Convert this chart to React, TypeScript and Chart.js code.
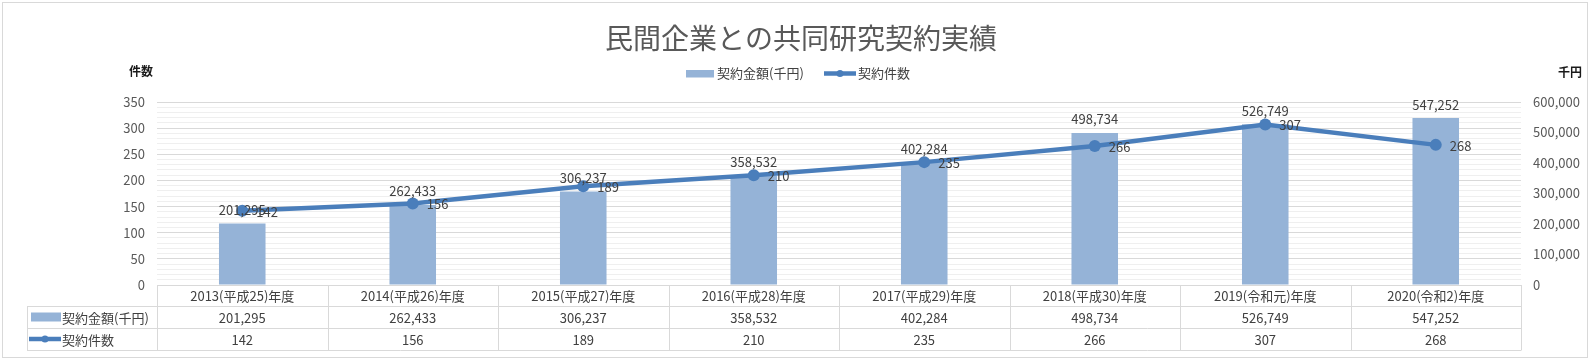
import React, { useEffect, useRef } from "react";
import { Chart, registerables } from "chart.js";

Chart.register(...registerables);

const titleText = "民間企業との共同研究契約実績";
const categories = [
  "2013(平成25)年度",
  "2014(平成26)年度",
  "2015(平成27)年度",
  "2016(平成28)年度",
  "2017(平成29)年度",
  "2018(平成30)年度",
  "2019(令和元)年度",
  "2020(令和2)年度",
];
const amountName = "契約金額(千円)";
const countName = "契約件数";
const amountValues = [201295, 262433, 306237, 358532, 402284, 498734, 526749, 547252];
const countValues = [142, 156, 189, 210, 235, 266, 307, 268];
const leftAxisTitle = "件数";
const rightAxisTitle = "千円";
const leftMax = 350;
const leftMajorStep = 50;
const leftMinorStep = 10;
const rightMax = 600000;
const rightStep = 100000;

const FONT = "'Noto Sans CJK JP', 'Noto Sans', sans-serif";
const BAR_COLOR = "#95B3D7";
const LINE_COLOR = "#4A7EBB";
const GRID_MAJOR = "#d9d9d9";
const GRID_MINOR = "#efefef";
const TEXT = "#404040";
const AXIS_TEXT = "#595959";

const fmt = (v: number) => v.toLocaleString("en-US");

const decorPlugin = {
  id: "decor",
  beforeDraw(chart: any) {
    const ctx = chart.ctx;
    ctx.save();
    ctx.fillStyle = "#ffffff";
    ctx.fillRect(0, 0, chart.width, chart.height);
    ctx.strokeStyle = GRID_MAJOR;
    ctx.lineWidth = 1;
    ctx.strokeRect(2.5, 2.5, 1585, 355);
    ctx.restore();
  },
  afterDatasetsDraw(chart: any) {
    const ctx = chart.ctx;
    ctx.save();
    ctx.font = `13px ${FONT}`;
    ctx.fillStyle = TEXT;
    ctx.textBaseline = "middle";
    const barMeta = chart.getDatasetMeta(1);
    ctx.textAlign = "center";
    barMeta.data.forEach((el: any, i: number) => {
      ctx.fillText(fmt(amountValues[i]), el.x, el.y - 13.5);
    });
    const lineMeta = chart.getDatasetMeta(0);
    ctx.textAlign = "left";
    lineMeta.data.forEach((el: any, i: number) => {
      ctx.fillText(String(countValues[i]), el.x + 14, el.y + 1);
    });
    ctx.restore();
  },
  afterDraw(chart: any) {
    const ctx = chart.ctx;
    const area = chart.chartArea;
    const xs = chart.scales.x;
    ctx.save();
    // title
    ctx.fillStyle = AXIS_TEXT;
    ctx.font = `28px ${FONT}`;
    ctx.textAlign = "center";
    ctx.textBaseline = "middle";
    ctx.fillText(titleText, 801, 38);

    // legend
    ctx.font = `13px ${FONT}`;
    ctx.textAlign = "left";
    ctx.fillStyle = BAR_COLOR;
    ctx.fillRect(686, 70, 28, 7.5);
    ctx.fillStyle = TEXT;
    ctx.fillText(amountName, 717, 73.5);
    ctx.strokeStyle = LINE_COLOR;
    ctx.lineWidth = 4.5;
    ctx.beginPath();
    ctx.moveTo(824, 73.5);
    ctx.lineTo(856, 73.5);
    ctx.stroke();
    ctx.fillStyle = LINE_COLOR;
    ctx.beginPath();
    ctx.arc(840, 73.5, 3.5, 0, Math.PI * 2);
    ctx.fill();
    ctx.fillStyle = TEXT;
    ctx.fillText(countName, 858, 73.5);

    // axis titles
    ctx.font = `600 12px ${FONT}`;
    ctx.fillStyle = "#1a1a1a";
    ctx.textAlign = "right";
    ctx.fillText(leftAxisTitle, 153, 71);
    ctx.textAlign = "left";
    ctx.fillText(rightAxisTitle, 1558, 72.5);

    // data table
    const n = categories.length;
    const cat = xs.getPixelForValue(1) - xs.getPixelForValue(0);
    const left = area.left;
    const right = area.right;
    const r0 = area.bottom;
    const r1 = r0 + 21;
    const r2 = r1 + 22;
    const r3 = r2 + 22;
    const tLeft = 27;
    ctx.strokeStyle = GRID_MAJOR;
    ctx.lineWidth = 1;
    ctx.beginPath();
    const h = (x1: number, x2: number, y: number) => {
      ctx.moveTo(x1, Math.round(y) + 0.5);
      ctx.lineTo(x2, Math.round(y) + 0.5);
    };
    const v = (x: number, y1: number, y2: number) => {
      ctx.moveTo(Math.round(x) + 0.5, y1);
      ctx.lineTo(Math.round(x) + 0.5, y2);
    };
    h(left, right, r0);
    h(tLeft, right, r1);
    h(tLeft, right, r2);
    h(tLeft, right, r3);
    v(tLeft, r1, r3 + 0.5);
    for (let k = 0; k <= n; k++) {
      const x = k < n ? xs.getPixelForValue(k) - cat / 2 : xs.getPixelForValue(n - 1) + cat / 2;
      v(x, r0, r3 + 0.5);
    }
    ctx.stroke();

    ctx.font = `13px ${FONT}`;
    ctx.fillStyle = TEXT;
    ctx.textAlign = "center";
    ctx.textBaseline = "middle";
    for (let i = 0; i < n; i++) {
      const cx = xs.getPixelForValue(i);
      ctx.fillText(categories[i], cx, (r0 + r1) / 2 + 1);
      ctx.fillText(fmt(amountValues[i]), cx, (r1 + r2) / 2 + 1);
      ctx.fillText(String(countValues[i]), cx, (r2 + r3) / 2 + 1);
    }
    ctx.textAlign = "left";
    ctx.fillStyle = BAR_COLOR;
    ctx.fillRect(31, (r1 + r2) / 2 - 4.5, 30, 9);
    ctx.fillStyle = TEXT;
    ctx.fillText(amountName, 62, (r1 + r2) / 2 + 1);
    ctx.strokeStyle = LINE_COLOR;
    ctx.lineWidth = 4.5;
    ctx.beginPath();
    ctx.moveTo(29, (r2 + r3) / 2);
    ctx.lineTo(61, (r2 + r3) / 2);
    ctx.stroke();
    ctx.fillStyle = LINE_COLOR;
    ctx.beginPath();
    ctx.arc(45, (r2 + r3) / 2, 3.5, 0, Math.PI * 2);
    ctx.fill();
    ctx.fillStyle = TEXT;
    ctx.fillText(countName, 62, (r2 + r3) / 2 + 1);
    ctx.restore();
  },
};

export default function App() {
  const ref = useRef<HTMLCanvasElement | null>(null);
  useEffect(() => {
    document.body.style.margin = "0";
    const canvas = ref.current;
    if (!canvas) return;
    const chart = new Chart(canvas, {
      type: "bar",
      data: {
        labels: categories,
        datasets: [
          {
            type: "line",
            label: countName,
            data: countValues,
            yAxisID: "y",
            borderColor: LINE_COLOR,
            backgroundColor: LINE_COLOR,
            borderWidth: 4.5,
            pointRadius: 6,
            pointBackgroundColor: LINE_COLOR,
            pointBorderWidth: 0,
            tension: 0,
            order: 0,
          } as any,
          {
            type: "bar",
            label: amountName,
            data: amountValues,
            yAxisID: "y1",
            backgroundColor: BAR_COLOR,
            borderWidth: 0,
            categoryPercentage: 1,
            barPercentage: 0.273,
            order: 1,
          } as any,
        ],
      },
      options: {
        responsive: false,
        animation: false,
        devicePixelRatio: 1,
        layout: { padding: { top: 102, left: 0, right: 0, bottom: 0 } },
        plugins: {
          legend: { display: false },
          title: { display: false },
          tooltip: { enabled: false },
        },
        scales: {
          x: {
            type: "category",
            offset: true,
            grid: { display: false },
            border: { display: false },
            ticks: { display: false },
            afterFit: (s: any) => {
              s.height = 76;
            },
          },
          y: {
            position: "left",
            min: 0,
            max: leftMax,
            grid: {
              drawTicks: false,
              color: (c: any) =>
                c.tick && c.tick.value % leftMajorStep === 0 ? GRID_MAJOR : GRID_MINOR,
              lineWidth: 1,
            },
            border: { display: false },
            ticks: {
              stepSize: leftMinorStep,
              autoSkip: false,
              padding: 12,
              color: AXIS_TEXT,
              font: { family: FONT, size: 13 },
              callback: (val: any) => (Number(val) % leftMajorStep === 0 ? String(val) : ""),
            },
            afterFit: (s: any) => {
              s.width = 157;
            },
          },
          y1: {
            position: "right",
            min: 0,
            max: rightMax,
            grid: { drawOnChartArea: false, drawTicks: false },
            border: { display: false },
            ticks: {
              stepSize: rightStep,
              padding: 12,
              color: AXIS_TEXT,
              font: { family: FONT, size: 13 },
              callback: (val: any) => fmt(Number(val)),
            },
            afterFit: (s: any) => {
              s.width = 71;
            },
          },
        },
      } as any,
      plugins: [decorPlugin],
    });
    return () => chart.destroy();
  }, []);
  return (
    <div style={{ width: 1592, height: 361, position: "relative" }}>
      <canvas ref={ref} width={1592} height={361} style={{ display: "block" }} />
    </div>
  );
}
